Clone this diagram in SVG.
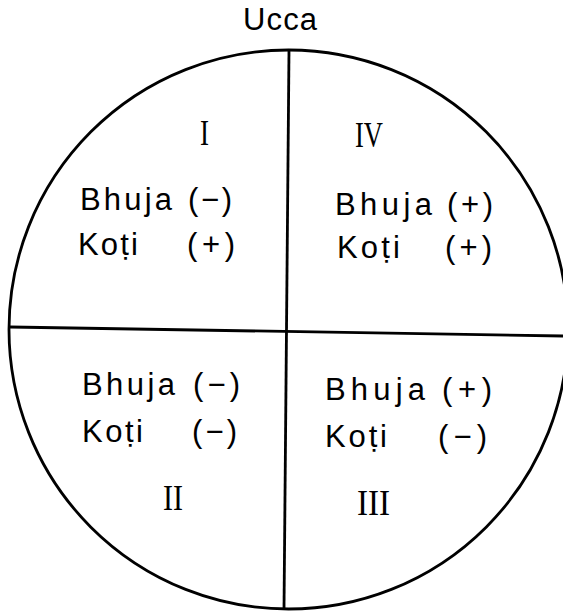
<svg xmlns="http://www.w3.org/2000/svg" width="563" height="611" viewBox="0 0 563 611">
<style>
.lbl{font-family:"Liberation Sans","DejaVu Sans",sans-serif;font-size:31px;fill:#000}
.num{font-family:"Liberation Serif","DejaVu Serif",serif;font-size:35px;fill:#000}
.ln{stroke:#000;stroke-width:2.8;fill:none}
</style>
<rect width="563" height="611" fill="#fff"/>
<g id="connectors">
<circle class="ln" cx="288.5" cy="329.5" r="279.5" stroke-width="3.4"/>
<line class="ln" x1="10" y1="327" x2="563" y2="336"/>
<line class="ln" x1="289" y1="50" x2="284" y2="609"/>
</g>
<g id="ucca"><text class="lbl" x="243" y="30" textLength="74" lengthAdjust="spacing">Ucca</text></g>
<g id="q1">
<text class="num" x="200" y="145" textLength="9" lengthAdjust="spacingAndGlyphs">I</text>
<text class="lbl" x="80" y="210" textLength="92" lengthAdjust="spacing">Bhuja</text>
<text class="lbl" x="188" y="210" textLength="44" lengthAdjust="spacing">(−)</text>
<text class="lbl" x="78" y="255" textLength="60" lengthAdjust="spacing">Koṭi</text>
<text class="lbl" x="187" y="255" textLength="48" lengthAdjust="spacing">(+)</text>
</g>
<g id="q4">
<text class="num" x="355" y="147" textLength="28" lengthAdjust="spacingAndGlyphs">IV</text>
<text class="lbl" x="335" y="215" textLength="97" lengthAdjust="spacing">Bhuja</text>
<text class="lbl" x="447" y="215" textLength="46" lengthAdjust="spacing">(+)</text>
<text class="lbl" x="337" y="258" textLength="63" lengthAdjust="spacing">Koṭi</text>
<text class="lbl" x="445" y="258" textLength="47" lengthAdjust="spacing">(+)</text>
</g>
<g id="q2">
<text class="lbl" x="82" y="395" textLength="93" lengthAdjust="spacing">Bhuja</text>
<text class="lbl" x="193" y="395" textLength="47" lengthAdjust="spacing">(−)</text>
<text class="lbl" x="82" y="442" textLength="61" lengthAdjust="spacing">Koṭi</text>
<text class="lbl" x="192" y="442" textLength="45" lengthAdjust="spacing">(−)</text>
<text class="num" x="163" y="510" textLength="20" lengthAdjust="spacingAndGlyphs">II</text>
</g>
<g id="q3">
<text class="lbl" x="325" y="400" textLength="100" lengthAdjust="spacing">Bhuja</text>
<text class="lbl" x="442" y="400" textLength="50" lengthAdjust="spacing">(+)</text>
<text class="lbl" x="325" y="447" textLength="62" lengthAdjust="spacing">Koṭi</text>
<text class="lbl" x="438" y="447" textLength="49" lengthAdjust="spacing">(−)</text>
<text class="num" x="357" y="515" textLength="33" lengthAdjust="spacingAndGlyphs">III</text>
</g>
</svg>
